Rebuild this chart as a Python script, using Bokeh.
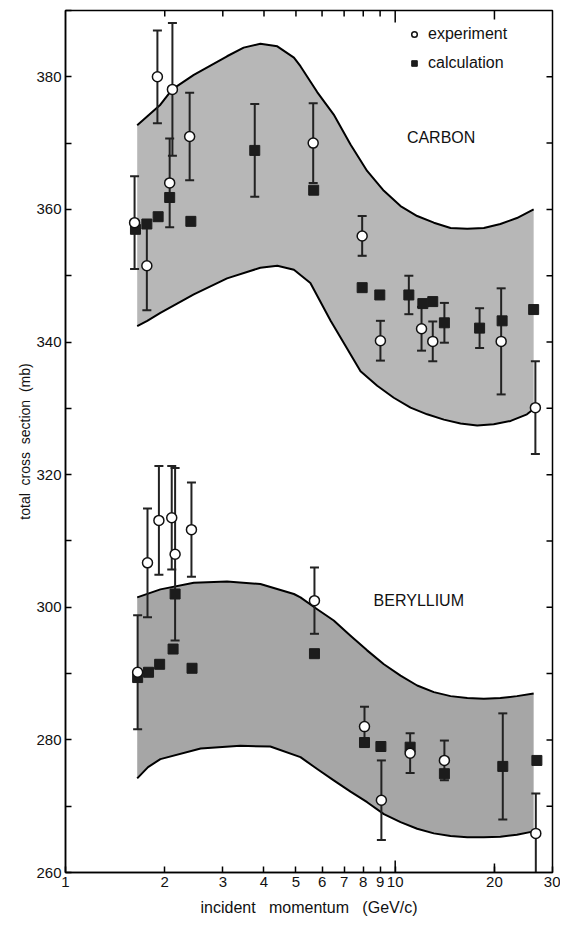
import math
from bokeh.plotting import figure
from bokeh.models import (ColumnDataSource, FixedTicker, Legend, LegendItem, Label)
from bokeh.embed import file_html
from bokeh.resources import INLINE

# ---------------- data ----------------
# Carbon band (upper / lower calculation limits)
c_up_p = [1.65, 1.94, 2.107, 2.45, 3.09, 3.47, 3.90, 4.39, 4.93, 5.16, 5.53, 5.80, 6.51, 7.32, 8.22,
          9.24, 10.38, 11.66, 13.1, 14.72, 16.54, 18.57, 20.85, 23.4, 26.3]
c_up_s = [372.7, 375.8, 378.1, 380.3, 383.1, 384.4, 385.0, 384.6, 382.9, 381.6, 379.3, 377.7, 374.3, 369.8, 365.8,
          362.8, 360.5, 359.0, 358.0, 357.2, 357.1, 357.2, 357.8, 358.7, 360.0]
c_lo_p = [1.65, 1.77, 1.94, 2.45, 3.09, 3.90, 4.39, 4.93, 5.53, 6.37, 7.85, 8.82, 9.90, 11.13, 12.5,
          14.05, 15.78, 17.73, 19.9, 22.4, 25.1, 26.3]
c_lo_s = [342.4, 343.2, 344.4, 347.2, 349.6, 351.2, 351.5, 350.9, 348.9, 343.2, 335.6, 333.4, 331.6, 330.1, 329.1,
          328.3, 327.7, 327.4, 327.6, 328.1, 329.1, 329.9]

# Beryllium band
b_up_p = [1.65, 1.94, 2.45, 3.09, 3.90, 4.93, 5.16, 5.8, 6.51, 7.32, 8.22, 9.24, 10.38, 11.66, 13.1,
          14.72, 16.54, 18.57, 20.85, 23.4, 26.3]
b_up_s = [301.5, 302.7, 303.7, 303.9, 303.5, 302.0, 301.5, 299.7, 298.0, 295.7, 293.5, 291.4, 289.7, 288.2, 287.2,
          286.6, 286.3, 286.2, 286.3, 286.6, 287.0]
b_lo_p = [1.65, 1.78, 1.94, 2.57, 3.39, 4.18, 5.16, 5.8, 6.51, 7.32, 8.22, 9.24, 10.38, 11.66, 13.1, 14.72,
          16.54, 18.57, 20.85, 23.4, 26.3]
b_lo_s = [274.2, 275.9, 277.1, 278.7, 279.1, 279.0, 277.4, 275.6, 273.9, 272.2, 270.6, 268.8, 267.6, 266.6, 265.9, 265.5,
          265.3, 265.3, 265.4, 265.7, 266.2]

# Carbon experiment
c_exp_p = [1.62, 1.765, 1.90, 2.07, 2.11, 2.38, 5.64, 7.94, 9.02, 12.02, 13.0, 20.96, 26.62]
c_exp_s = [358.0, 351.5, 380.0, 364.0, 378.1, 371.0, 370.0, 356.0, 340.2, 342.0, 340.1, 340.1, 330.1]
c_exp_e = [7.0, 6.7, 7.0, 6.7, 10.0, 6.6, 6.0, 3.0, 3.0, 3.3, 3.0, 8.0, 7.0]

# Carbon calculation
c_cal_p = [1.63, 1.765, 1.91, 2.07, 2.40, 3.75, 5.66, 7.94, 8.98, 11.0, 12.13, 13.0, 14.1, 18.03, 21.1, 26.3]
c_cal_s = [357.0, 357.8, 358.9, 361.8, 358.2, 368.9, 362.9, 348.2, 347.1, 347.1, 345.8, 346.1, 342.9, 342.1, 343.2, 344.9]
c_cal_e = [0, 0, 0, 0, 0, 7.0, 0, 0, 0, 2.9, 0, 0, 3.0, 3.0, 0, 0]

# Beryllium experiment
b_exp_p = [1.655, 1.773, 1.92, 2.10, 2.15, 2.41, 5.69, 8.07, 9.08, 11.1, 14.1, 26.7]
b_exp_s = [290.2, 306.7, 313.1, 313.5, 308.0, 311.7, 301.0, 282.0, 270.9, 278.0, 276.9, 265.9]
b_exp_e = [8.6, 8.2, 8.2, 7.8, 13.0, 7.1, 5.0, 3.0, 6.0, 3.0, 3.0, 6.0]

# Beryllium calculation
b_cal_p = [1.655, 1.786, 1.93, 2.12, 2.15, 2.42, 5.69, 8.07, 9.05, 11.1, 14.1, 21.2, 26.9]
b_cal_s = [289.4, 290.2, 291.4, 293.7, 302.0, 290.8, 293.0, 279.6, 279.0, 278.9, 274.9, 276.0, 276.9]
b_cal_e = [0, 0, 0, 0, 0, 0, 0, 0, 0, 0, 0, 8.0, 0]

x_ticks = [1, 2, 3, 4, 5, 6, 7, 8, 9, 10, 20, 30]
y_major = [260, 280, 300, 320, 340, 360, 380]
y_minor = [270, 290, 310, 330, 350, 370, 390]

label_text = ["CARBON", "BERYLLIUM"]
label_x = [10.85, 8.6]
label_y = [370.9, 301.0]

FONT = "Liberation Sans"
X0, X1 = 1, 30
Y0, Y1 = 260, 390

# ---------------- figure ----------------
W, H = 560, 920
BL, BR, BT, BB = 65, 8, 10, 48
FW, FH = W - BL - BR, H - BT - BB

p = figure(width=W, height=H, x_axis_type="log", x_range=(X0, X1), y_range=(Y0, Y1),
           output_backend="svg", toolbar_location=None,
           min_border_left=BL, min_border_right=BR, min_border_top=BT, min_border_bottom=BB)
p.grid.visible = False
p.outline_line_color = "black"
p.outline_line_width = 1.5
p.background_fill_color = "white"
p.border_fill_color = "white"

# bands
for up_p, up_s, lo_p, lo_s, col in [(c_up_p, c_up_s, c_lo_p, c_lo_s, "#b7b7b7"),
                                    (b_up_p, b_up_s, b_lo_p, b_lo_s, "#a6a6a6")]:
    p.patch(up_p + lo_p[::-1], up_s + lo_s[::-1], fill_color=col, line_color=None)
    p.line(up_p, up_s, line_color="black", line_width=2, line_join="round")
    p.line(lo_p, lo_s, line_color="black", line_width=2, line_join="round")


def bars(px, ps, pe):
    xs = [x for x, e in zip(px, pe) if e > 0]
    lo = [s - e for s, e in zip(ps, pe) if e > 0]
    hi = [s + e for s, e in zip(ps, pe) if e > 0]
    src = ColumnDataSource(dict(x=xs, lo=lo, hi=hi))
    p.segment(x0="x", y0="lo", x1="x", y1="hi", source=src, line_color="#222222", line_width=2)
    p.scatter(x="x", y="lo", source=src, marker="dash", size=9, line_color="#222222", line_width=2)
    p.scatter(x="x", y="hi", source=src, marker="dash", size=9, line_color="#222222", line_width=2)


for args in [(c_exp_p, c_exp_s, c_exp_e), (c_cal_p, c_cal_s, c_cal_e),
             (b_exp_p, b_exp_s, b_exp_e), (b_cal_p, b_cal_s, b_cal_e)]:
    bars(*args)

sq_c = p.scatter(c_cal_p, c_cal_s, marker="square", size=10, fill_color="#1c1c1c", line_color="#1c1c1c")
p.scatter(b_cal_p, b_cal_s, marker="square", size=10, fill_color="#1c1c1c", line_color="#1c1c1c")
ci_c = p.scatter(c_exp_p, c_exp_s, marker="circle", size=10, fill_color="white", line_color="#111111", line_width=1.5)
p.scatter(b_exp_p, b_exp_s, marker="circle", size=10, fill_color="white", line_color="#111111", line_width=1.5)

for t, x, y in zip(label_text, label_x, label_y):
    p.add_layout(Label(x=x, y=y, text=t, text_font=FONT, text_font_size="16px",
                       text_baseline="middle", text_align="left", text_color="#111111"))

# legend
legend = Legend(items=[LegendItem(label="experiment", renderers=[ci_c]),
                       LegendItem(label="calculation", renderers=[sq_c])],
                location="top_right", background_fill_alpha=0, border_line_color=None,
                label_text_font=FONT, label_text_font_size="16px", label_text_color="#111111",
                glyph_width=14, glyph_height=20, spacing=9, padding=7, margin=14,
                label_standoff=7, label_width=110)
p.add_layout(legend)

# ---------------- axes ----------------
xa, ya = p.xaxis[0], p.yaxis[0]
for ax in [xa, ya]:
    ax.axis_line_width = 1.5
    ax.major_tick_in = 6
    ax.major_tick_out = 0
    ax.minor_tick_in = 6
    ax.minor_tick_out = 0
    ax.major_tick_line_width = 1.5
    ax.minor_tick_line_width = 1.5
    ax.major_label_text_font = FONT
    ax.major_label_text_font_size = "15px"
    ax.major_label_text_color = "#111111"
    ax.axis_label_text_font = FONT
    ax.axis_label_text_font_style = "normal"
    ax.axis_label_text_color = "#111111"
    ax.major_label_standoff = 4

xa.ticker = FixedTicker(ticks=x_ticks)
xa.axis_label = "incident\u00a0\u00a0\u00a0momentum\u00a0\u00a0\u00a0(GeV/c)"
xa.axis_label_text_font_size = "16px"
xa.axis_label_standoff = 9
ya.ticker = FixedTicker(ticks=y_major, minor_ticks=y_minor)
ya.axis_label = "total\u00a0\u00a0cross\u00a0\u00a0section\u00a0\u00a0(mb)"
ya.axis_label_text_font_size = "14px"
ya.axis_label_standoff = 0

# ticks on the top and right frame edges, and longer decade ticks
dy = lambda px: px * (Y1 - Y0) / FH
fx = lambda px: 10 ** (px * math.log10(X1 / X0) / FW)
tick_len = {10: 12, 20: 9}
top_x = [t for t in x_ticks if X0 < t < X1]
top_len = [tick_len.get(t, 6) for t in top_x]
p.segment(x0=top_x, y0=[Y1] * len(top_x), x1=top_x, y1=[Y1 - dy(L) for L in top_len],
          line_color="black", line_width=1.5)
long_x = list(tick_len)
p.segment(x0=long_x, y0=[Y0] * len(long_x), x1=long_x, y1=[Y0 + dy(tick_len[t]) for t in long_x],
          line_color="black", line_width=1.5)
right_y = sorted(y_major + y_minor)
right_y = [t for t in right_y if Y0 < t < Y1]
p.segment(x0=[X1] * len(right_y), y0=right_y, x1=[X1 / fx(6)] * len(right_y), y1=right_y,
          line_color="black", line_width=1.5)

open("out.html", "w").write(file_html(p, INLINE))
